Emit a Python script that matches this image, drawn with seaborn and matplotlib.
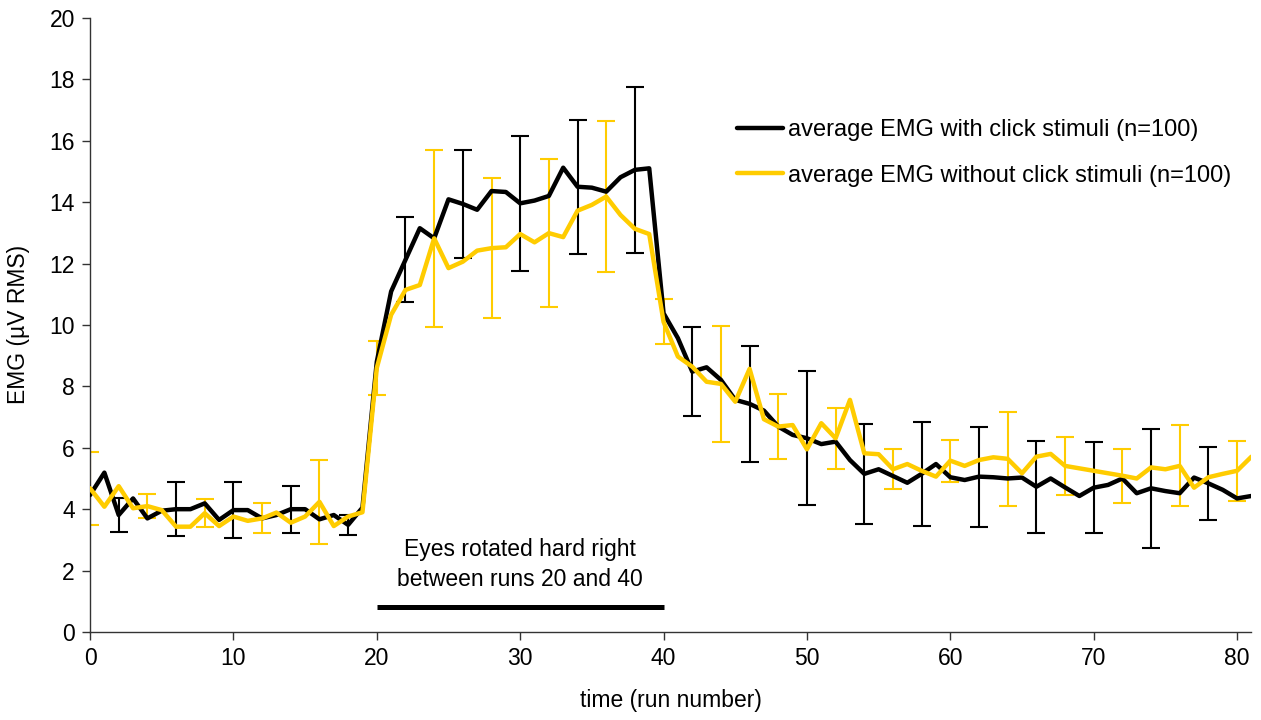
import numpy as np
import pandas as pd
import seaborn as sns
import matplotlib
matplotlib.use("Agg")
import matplotlib.pyplot as plt

# run numbers
runs = np.arange(0, 82)

# average EMG with click stimuli (black)
emg_click = [4.46, 5.19, 3.81, 4.35, 3.70, 3.95, 4.00, 4.00, 4.19, 3.65,
             3.97, 3.97, 3.70, 3.81, 4.00, 4.00, 3.67, 3.81, 3.49, 4.05,
             8.80, 11.09, 12.12, 13.15, 12.82, 14.09, 13.94, 13.75, 14.36, 14.33,
             13.96, 14.05, 14.20, 15.12, 14.50, 14.47, 14.34, 14.81, 15.05, 15.10,
             10.38, 9.57, 8.48, 8.62, 8.21, 7.56, 7.43, 7.21, 6.69, 6.42,
             6.31, 6.12, 6.20, 5.60, 5.15, 5.30, 5.08, 4.86, 5.15, 5.47,
             5.04, 4.95, 5.06, 5.04, 5.00, 5.03, 4.73, 5.00, 4.71, 4.43,
             4.70, 4.79, 5.00, 4.52, 4.68, 4.59, 4.52, 5.03, 4.84, 4.63,
             4.35, 4.43]

# average EMG without click stimuli (yellow)
emg_noclick = [4.68, 4.08, 4.75, 4.03, 4.10, 3.97, 3.43, 3.43, 3.87, 3.45,
               3.76, 3.62, 3.70, 3.89, 3.56, 3.76, 4.24, 3.45, 3.76, 3.90,
               8.60, 10.33, 11.14, 11.30, 12.82, 11.85, 12.06, 12.42, 12.50, 12.53,
               12.96, 12.69, 12.99, 12.86, 13.72, 13.91, 14.18, 13.58, 13.13, 12.96,
               10.10, 8.97, 8.64, 8.15, 8.08, 7.50, 8.57, 6.93, 6.69, 6.74,
               5.95, 6.80, 6.31, 7.56, 5.82, 5.79, 5.30, 5.47, 5.25, 5.06,
               5.58, 5.41, 5.60, 5.69, 5.64, 5.17, 5.71, 5.80, 5.41, 5.33,
               5.25, 5.17, 5.09, 5.00, 5.36, 5.30, 5.41, 4.70, 5.04, 5.15,
               5.25, 5.71]

# error bar half-widths (every 4th run, offset between series)
err_click_runs = np.arange(2, 82, 4)
err_click = [0.55, 0.87, 0.90, 0.77, 0.33, 1.38, 1.76, 2.19, 2.18, 2.70,
             1.45, 1.88, 2.18, 1.62, 1.70, 1.63, 1.50, 1.48, 1.94, 1.18]
err_noclick_runs = np.arange(0, 82, 4)
err_noclick = [1.18, 0.39, 0.45, 0.49, 1.37, 0.88, 2.89, 2.29, 2.42, 2.46,
               0.73, 1.90, 1.05, 1.00, 0.65, 0.68, 1.54, 0.95, 0.88, 1.32, 0.97]

label_click = "average EMG with click stimuli (n=100)"
label_noclick = "average EMG without click stimuli (n=100)"
rotation_runs = [20, 40]
rotation_text = "Eyes rotated hard right\nbetween runs 20 and 40"

BLACK = "#000000"
YELLOW = "#FFCC00"
FS = 16.5

sns.set_style("ticks")
plt.rcParams["font.family"] = ["Liberation Sans", "DejaVu Sans"]
plt.rcParams["text.color"] = "black"
plt.rcParams["axes.labelcolor"] = "black"

df = pd.DataFrame({"run": runs, "click": emg_click, "noclick": emg_noclick})

fig = plt.figure(figsize=(12.61, 7.2), dpi=100)
ax = fig.add_axes([0.0714, 0.1222, 0.921, 0.853])

ax.errorbar(err_click_runs, df["click"].values[err_click_runs], yerr=err_click,
            fmt="none", ecolor=BLACK, elinewidth=1.5, capsize=6.5, capthick=1.5, zorder=2)
ax.errorbar(err_noclick_runs, df["noclick"].values[err_noclick_runs], yerr=err_noclick,
            fmt="none", ecolor=YELLOW, elinewidth=1.5, capsize=6.5, capthick=1.5, zorder=2)

sns.lineplot(data=df, x="run", y="click", color=BLACK, lw=3.2, ax=ax,
             label=label_click, zorder=3)
sns.lineplot(data=df, x="run", y="noclick", color=YELLOW, lw=3.2, ax=ax,
             label=label_noclick, zorder=4)

# rotation period marker
ax.plot(rotation_runs, [0.8, 0.8], color=BLACK, lw=3.6, solid_capstyle="butt")
ax.text(np.mean(rotation_runs), 2.2, rotation_text, ha="center", va="center",
        fontsize=FS, linespacing=1.4, color="black")

ax.set_xlim(0, 81)
ax.set_ylim(0, 20)
ax.set_xticks(range(0, 81, 10))
ax.set_yticks(range(0, 21, 2))
ax.tick_params(direction="out", length=6, width=1, labelsize=FS, colors="#333333",
               labelcolor="black", pad=5)
sns.despine(ax=ax)
for side in ["left", "bottom"]:
    ax.spines[side].set_color("#333333")
    ax.spines[side].set_linewidth(1)

ax.set_xlabel("time (run number)", fontsize=FS, color="black")
ax.set_ylabel("EMG (\u00b5V RMS)", fontsize=FS, color="black")
ax.xaxis.set_label_coords(0.5, -0.093)
ax.yaxis.set_label_coords(-0.052, 0.5)

leg = ax.legend(loc="upper left", bbox_to_anchor=(737 / 1261, 1 - 119 / 720),
                bbox_transform=fig.transFigure, frameon=False, borderpad=0,
                borderaxespad=0, fontsize=17, handlelength=1.95, handletextpad=0.22,
                labelspacing=1.0)
for t in leg.get_texts():
    t.set_color("black")

fig.savefig("out.png", dpi=100)
